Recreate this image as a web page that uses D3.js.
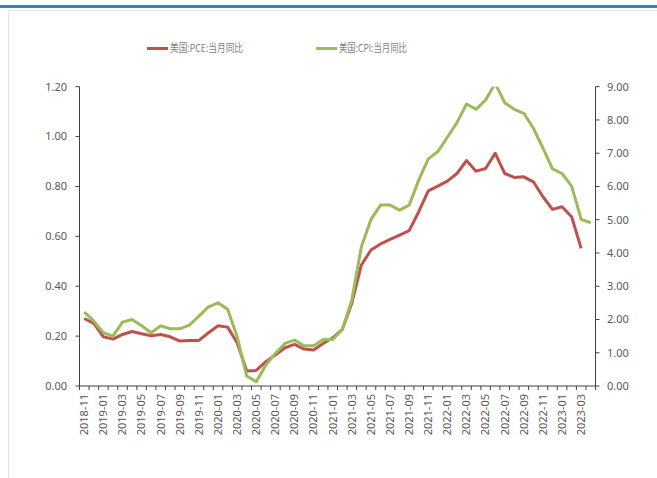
<!DOCTYPE html>
<html><head><meta charset="utf-8">
<script src="https://cdn.jsdelivr.net/npm/d3@7"></script>
<style>
html,body{margin:0;padding:0;background:#fff;}
svg{display:block;}
</style></head>
<body>
<svg id="c" width="657" height="478"></svg>
<script>
const months = ["2018-11","2018-12",
"2019-01","2019-02","2019-03","2019-04","2019-05","2019-06","2019-07","2019-08","2019-09","2019-10","2019-11","2019-12",
"2020-01","2020-02","2020-03","2020-04","2020-05","2020-06","2020-07","2020-08","2020-09","2020-10","2020-11","2020-12",
"2021-01","2021-02","2021-03","2021-04","2021-05","2021-06","2021-07","2021-08","2021-09","2021-10","2021-11","2021-12",
"2022-01","2022-02","2022-03","2022-04","2022-05","2022-06","2022-07","2022-08","2022-09","2022-10","2022-11","2022-12",
"2023-01","2023-02","2023-03","2023-04"];

const pce = [2.03,1.88,
1.48,1.41,1.55,1.64,1.57,1.51,1.55,1.48,1.35,1.37,1.37,1.6,
1.81,1.77,1.3,0.45,0.47,0.73,0.93,1.15,1.25,1.11,1.08,1.28,
1.45,1.7,2.49,3.64,4.09,4.27,4.41,4.54,4.67,5.24,5.87,6.01,
6.16,6.39,6.78,6.46,6.54,7.0,6.39,6.27,6.29,6.14,5.69,5.31,
5.39,5.09,4.14,null];

const cpi = [2.22,1.95,
1.6,1.5,1.92,2.0,1.81,1.6,1.81,1.72,1.72,1.83,2.1,2.38,
2.5,2.31,1.48,0.3,0.13,0.63,0.98,1.28,1.38,1.21,1.21,1.4,
1.4,1.7,2.59,4.19,5.01,5.44,5.44,5.29,5.44,6.19,6.83,7.05,
7.48,7.92,8.48,8.32,8.6,9.1,8.52,8.32,8.2,7.75,7.15,6.53,
6.39,6.01,5.01,4.91];

const leftTicks = [0,0.2,0.4,0.6,0.8,1.0,1.2];
const rightTicks = [0,1,2,3,4,5,6,7,8,9];
const seriesNames = ["美国:PCE:当月同比","美国:CPI:当月同比"];
const seriesColors = ["#C0504D","#9BBB59"];

const svg = d3.select("#c");
const W = 657, H = 478;
const L = 79.5, R = 595.5, T = 86.7, B = 386;
const font = "'Noto Sans', 'Noto Sans CJK SC', sans-serif";
const textCol = "#595959";
const axisCol = "#404040";

// top blue bar & frame
svg.append("rect").attr("x",0).attr("y",5).attr("width",W).attr("height",3).attr("fill","#2E86C8");
svg.append("path").attr("d",`M8.5,${H} V10.5 H${W}`).attr("fill","none").attr("stroke","#e3e3e3").attr("stroke-width",1);

const x = d3.scaleBand().domain(months).range([L,R]).padding(0);
const yR = d3.scaleLinear().domain([0,9]).range([B,T]);
const yL = d3.scaleLinear().domain([0,1.2]).range([B,T]);
const cx = m => x(m) + x.bandwidth()/2;

// clip
svg.append("clipPath").attr("id","plot").append("rect")
  .attr("x",L-5).attr("y",T).attr("width",R-L+10).attr("height",B-T+5);

// left axis
const gL = svg.append("g");
gL.append("line").attr("x1",L).attr("x2",L).attr("y1",T).attr("y2",B).attr("stroke",axisCol);
leftTicks.forEach(t=>{
  gL.append("line").attr("x1",L-4).attr("x2",L).attr("y1",yL(t)).attr("y2",yL(t)).attr("stroke",axisCol);
  gL.append("text").attr("x",67).attr("y",yL(t)).attr("dy","0.35em").attr("text-anchor","end")
    .attr("font-family",font).attr("font-size","11px").attr("fill",textCol).text(t.toFixed(2));
});

// right axis
const gR = svg.append("g");
gR.append("line").attr("x1",R).attr("x2",R).attr("y1",T).attr("y2",B).attr("stroke",axisCol);
rightTicks.forEach(t=>{
  gR.append("line").attr("x1",R).attr("x2",R+4).attr("y1",yR(t)).attr("y2",yR(t)).attr("stroke",axisCol);
  gR.append("text").attr("x",607).attr("y",yR(t)).attr("dy","0.35em").attr("text-anchor","start")
    .attr("font-family",font).attr("font-size","11px").attr("fill",textCol).text(t.toFixed(2));
});

// bottom axis
const gB = svg.append("g");
gB.append("line").attr("x1",L).attr("x2",R).attr("y1",B).attr("y2",B).attr("stroke",axisCol);
months.forEach((m,i)=>{
  gB.append("line").attr("x1",x(m)).attr("x2",x(m)).attr("y1",B).attr("y2",B+4).attr("stroke",axisCol);
  if(i%2===0){
    gB.append("text").attr("transform",`translate(${cx(m)},394) rotate(-90)`)
      .attr("dy","0.35em").attr("text-anchor","end")
      .attr("font-family",font).attr("font-size","11px").attr("fill",textCol).text(m);
  }
});
gB.append("line").attr("x1",R).attr("x2",R).attr("y1",B).attr("y2",B+4).attr("stroke",axisCol);

// lines
const line = d3.line().defined(d=>d.v!=null).x(d=>cx(d.m)).y(d=>yR(d.v));
[pce,cpi].forEach((s,k)=>{
  svg.append("path").datum(months.map((m,i)=>({m, v:s[i]})))
    .attr("clip-path","url(#plot)")
    .attr("d",line).attr("fill","none").attr("stroke",seriesColors[k])
    .attr("stroke-width",3).attr("stroke-linejoin","round").attr("stroke-linecap","butt");
});

// legend
const legX = [147, 316];
seriesNames.forEach((n,k)=>{
  svg.append("line").attr("x1",legX[k]).attr("x2",legX[k]+21).attr("y1",48.5).attr("y2",48.5)
    .attr("stroke",seriesColors[k]).attr("stroke-width",3);
  svg.append("text").attr("x",legX[k]+23).attr("y",48.5).attr("dy","0.35em")
    .attr("font-family","'Noto Sans CJK SC', 'Noto Sans', sans-serif").attr("font-size","11px")
    .attr("textLength", k===0?73:68).attr("lengthAdjust","spacingAndGlyphs")
    .attr("fill","#7f7f7f").text(n);
});
</script>
</body></html>
